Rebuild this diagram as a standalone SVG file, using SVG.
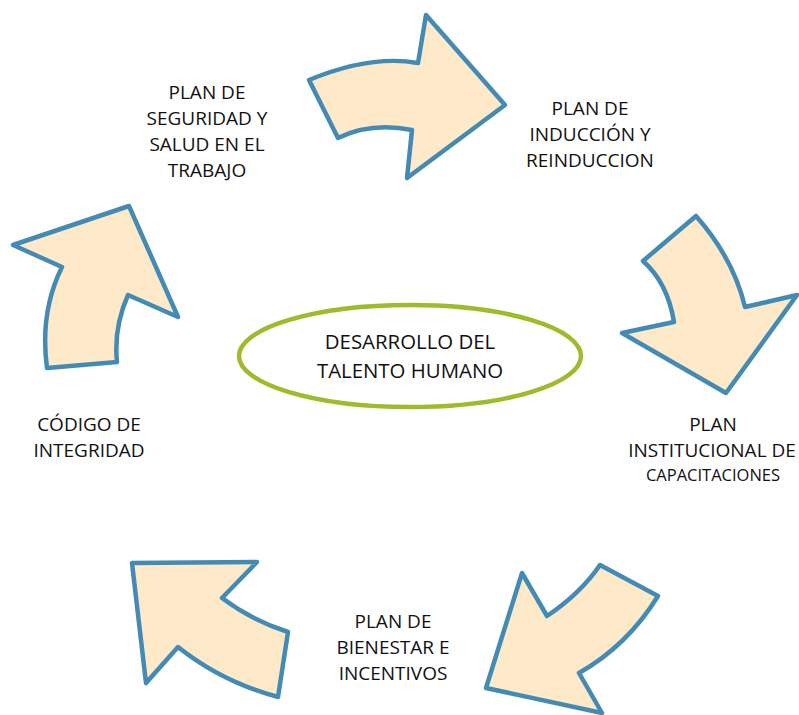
<svg xmlns="http://www.w3.org/2000/svg" width="799" height="715" viewBox="0 0 799 715">
<style>
.arrow{fill:#FEE9C9;stroke:#438BB5;stroke-width:4.5;stroke-linejoin:round}
.lbl{font-family:"Open Sans","Noto Sans","Liberation Sans",sans-serif;font-size:19px;fill:#111;text-anchor:middle}
.sm{font-size:16.5px}
.big{font-size:20.4px}
.hub{fill:#fff;stroke:#9DBB2B;stroke-width:4.5}
</style>
<rect width="799" height="715" fill="#fff"/>
<g id="connectors">
<path class="arrow" d="M309,80 Q370.5,54.5 418,63 L426,15 L505,105 L407,178 L412,130 Q371,122 338,138 Z"/>
<path class="arrow" d="M696,216 Q733.5,258.5 745,307 L797,295 L726,393 L622,333 L674,322 Q667.5,282.5 643,261 Z"/>
<path class="arrow" d="M600,565 L658,596 Q627.5,645.5 579,673 L602,713 L486,688 L522,573 L547,616 Q580.5,593.5 600,565 Z"/>
<path class="arrow" d="M132,563 L257,562 L222,598 Q253,621 288,632 L278,697 Q222,682 178,647 L146,683 Z"/>
<path class="arrow" d="M129,206 L178,317 L128,295 Q113.5,327.5 117,362 L47,368 Q39.5,312.5 62,267 L13,245 Z"/>
</g>
<g id="hub">
<ellipse class="hub" cx="410" cy="356" rx="171" ry="51"/>
<text class="lbl big" x="410" y="349">DESARROLLO DEL</text>
<text class="lbl big" x="410" y="378">TALENTO HUMANO</text>
</g>
<g id="seguridad">
<text class="lbl" x="207" y="99">PLAN DE</text>
<text class="lbl" x="207" y="125">SEGURIDAD Y</text>
<text class="lbl" x="207" y="151">SALUD EN EL</text>
<text class="lbl" x="207" y="177">TRABAJO</text>
</g>
<g id="induccion">
<text class="lbl" x="590" y="115">PLAN DE</text>
<text class="lbl" x="590" y="141">INDUCCIÓN Y</text>
<text class="lbl" x="590" y="167">REINDUCCION</text>
</g>
<g id="capacitaciones">
<text class="lbl" x="713" y="431">PLAN</text>
<text class="lbl" x="712" y="457">INSTITUCIONAL DE</text>
<text class="lbl sm" x="713" y="481">CAPACITACIONES</text>
</g>
<g id="bienestar">
<text class="lbl" x="393" y="628">PLAN DE</text>
<text class="lbl" x="393" y="654">BIENESTAR E</text>
<text class="lbl" x="393" y="680">INCENTIVOS</text>
</g>
<g id="integridad">
<text class="lbl" x="89" y="431">CÓDIGO DE</text>
<text class="lbl" x="89" y="457">INTEGRIDAD</text>
</g>
</svg>
